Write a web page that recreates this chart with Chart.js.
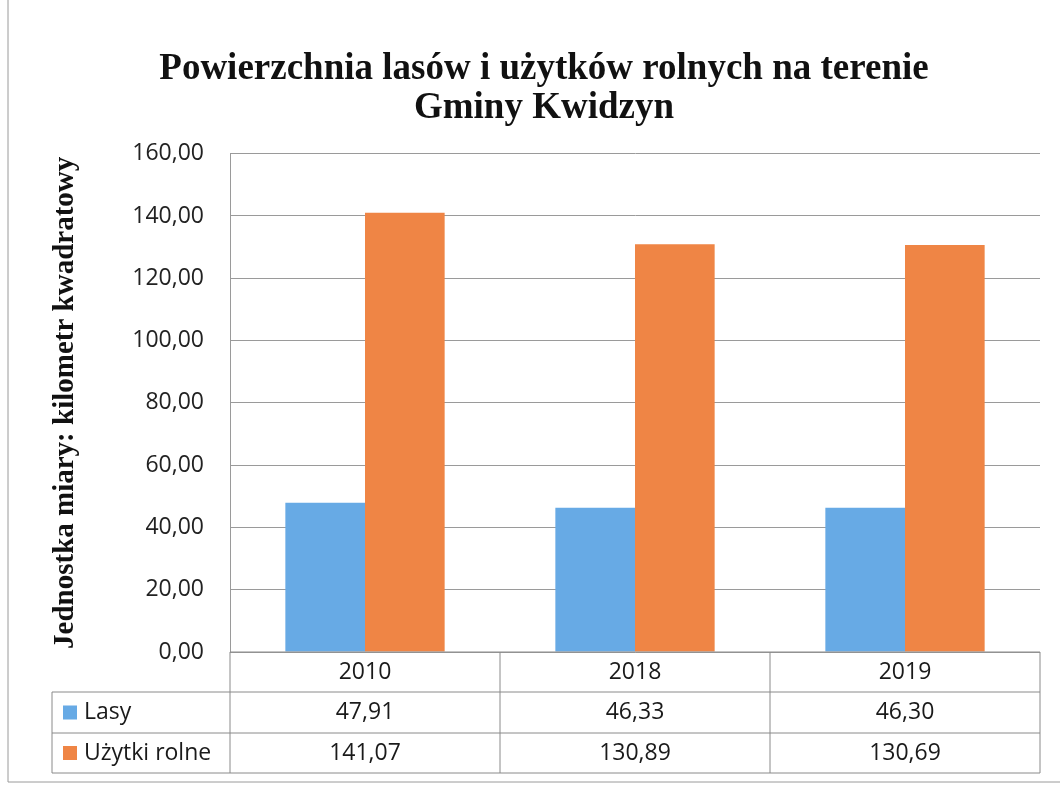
<!DOCTYPE html>
<html>
<head>
<meta charset="utf-8">
<script src="https://cdn.jsdelivr.net/npm/chart.js@4.4.1/dist/chart.umd.min.js"></script>
<style>
  html, body { margin: 0; padding: 0; background: #fff; }
  #wrap { width: 1060px; height: 791px; }
</style>
</head>
<body>
<div id="wrap"><canvas id="myChart" width="1060" height="791"></canvas></div>
<script>
const years = ['2010', '2018', '2019'];
const lasy = [47.91, 46.33, 46.30];
const uzytki = [141.07, 130.89, 130.69];
const seriesNames = ['Lasy', 'Użytki rolne'];
const yTicks = [0, 20, 40, 60, 80, 100, 120, 140, 160];

const blue = '#67aae5';
const orange = '#ef8545';
const cellFont = '23px "Open Sans"';

const fmt = v => v.toFixed(2).replace('.', ',');

// data table under the plot, columns follow the x scale
const tablePlugin = {
  id: 'dataTable',
  afterDraw(chart) {
    const ctx = chart.ctx;
    const area = chart.chartArea;
    const xs = chart.scales.x;
    const half = (xs.getPixelForValue(1) - xs.getPixelForValue(0)) / 2;
    const rows = [area.bottom, area.bottom + 40, area.bottom + 81, area.bottom + 121];
    const legLeft = 52;
    const xr = xs.getPixelForValue(years.length - 1) + half;

    ctx.save();
    ctx.strokeStyle = '#8a8a8a';
    ctx.lineWidth = 1;

    ctx.beginPath();
    ctx.moveTo(area.left, rows[0]); ctx.lineTo(xr, rows[0]);
    for (let r = 1; r < rows.length; r++) {
      ctx.moveTo(legLeft, rows[r]); ctx.lineTo(xr, rows[r]);
    }
    ctx.moveTo(legLeft, rows[1]); ctx.lineTo(legLeft, rows[3]);
    for (let i = 0; i < years.length; i++) {
      const x = xs.getPixelForValue(i) - half;
      ctx.moveTo(x, rows[0]); ctx.lineTo(x, rows[3]);
    }
    ctx.moveTo(xr, rows[0]); ctx.lineTo(xr, rows[3]);
    ctx.stroke();

    // outer chart border
    ctx.strokeStyle = '#9a9a9a';
    ctx.beginPath();
    ctx.moveTo(8, 0); ctx.lineTo(8, 782); ctx.lineTo(1060, 782);
    ctx.stroke();

    ctx.font = cellFont;
    ctx.fillStyle = '#1a1a1a';
    ctx.textAlign = 'center';
    ctx.textBaseline = 'middle';
    const series = [lasy, uzytki];
    years.forEach((y, i) => {
      const cx = xs.getPixelForValue(i);
      ctx.fillText(y, cx, (rows[0] + rows[1]) / 2);
      series.forEach((s, k) => ctx.fillText(fmt(s[i]), cx, (rows[k + 1] + rows[k + 2]) / 2));
    });

    ctx.textAlign = 'left';
    [blue, orange].forEach((c, k) => {
      const cy = (rows[k + 1] + rows[k + 2]) / 2;
      ctx.fillStyle = c;
      ctx.fillRect(63, cy - 7, 14, 14);
      ctx.fillStyle = '#1a1a1a';
      ctx.fillText(seriesNames[k], 84, cy);
    });
    ctx.restore();
  }
};

const data = {
  labels: years,
  datasets: [
    { label: seriesNames[0], data: lasy, backgroundColor: blue },
    { label: seriesNames[1], data: uzytki, backgroundColor: orange },
  ],
};

const config = {
  type: 'bar',
  data: data,
  options: {
    responsive: false,
    animation: false,
    layout: { padding: { left: 48, right: 20, top: 0, bottom: 139 } },
    datasets: { bar: { categoryPercentage: 0.59, barPercentage: 1 } },
    plugins: {
      legend: { display: false },
      tooltip: { enabled: false },
      title: {
        display: true,
        text: ['Powierzchnia lasów i użytków rolnych na terenie', 'Gminy Kwidzyn'],
        color: '#111',
        font: { family: '"Liberation Serif"', size: 37, weight: 'bold', lineHeight: 1.05 },
        padding: { top: 50, bottom: 26 },
      },
    },
    scales: {
      x: {
        grid: { display: false },
        border: { display: false },
        ticks: { display: false },
        afterFit(scale) { scale.height = 0; },
      },
      y: {
        min: 0,
        max: 160,
        afterBuildTicks(scale) { scale.ticks = yTicks.map(v => ({ value: v })); },
        afterFit(scale) { scale.width = 182; },
        grid: { color: '#9a9a9a', drawTicks: false },
        border: { color: '#9a9a9a' },
        ticks: {
          padding: 26,
          color: '#222',
          font: { family: '"Open Sans"', size: 23 },
          callback: v => fmt(v),
        },
        title: {
          display: true,
          text: 'Jednostka miary: kilometr kwadratowy',
          color: '#111',
          font: { family: '"Liberation Serif"', size: 29, weight: 'bold' },
          padding: { top: 0, bottom: 0 },
        },
      },
    },
  },
  plugins: [tablePlugin],
};

const myChart = new Chart(document.querySelector('#myChart').getContext('2d'), config);
</script>
</body>
</html>
